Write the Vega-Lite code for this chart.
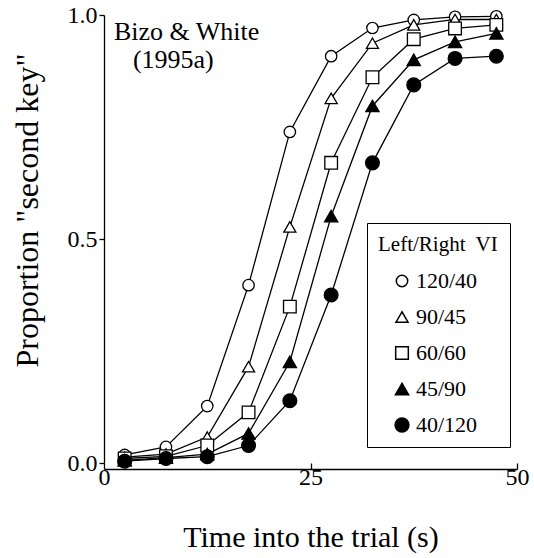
{
  "$schema": "https://vega.github.io/schema/vega-lite/v6.json",
  "width": 413,
  "height": 448,
  "autosize": {"type": "none"},
  "padding": {"left": 104, "top": 15, "right": 17, "bottom": 95},
  "background": "white",
  "config": {
    "view": {"stroke": null},
    "font": "Liberation Serif",
    "axis": {
      "grid": false,
      "domainColor": "black",
      "tickColor": "black",
      "labelColor": "black",
      "titleColor": "black",
      "domainWidth": 1.3,
      "tickWidth": 1.3,
      "labelFont": "Liberation Serif",
      "titleFont": "Liberation Serif",
      "titleFontWeight": "normal"
    },
    "legend": {
      "labelFont": "Liberation Serif",
      "titleFont": "Liberation Serif",
      "labelColor": "black",
      "titleColor": "black"
    }
  },
  "data": {
    "values": [
      {"time": 2.5, "prop": 0.018, "schedule": "120/40"},
      {"time": 7.5, "prop": 0.036, "schedule": "120/40"},
      {"time": 12.5, "prop": 0.127, "schedule": "120/40"},
      {"time": 17.5, "prop": 0.397, "schedule": "120/40"},
      {"time": 22.5, "prop": 0.739, "schedule": "120/40"},
      {"time": 27.5, "prop": 0.908, "schedule": "120/40"},
      {"time": 32.5, "prop": 0.971, "schedule": "120/40"},
      {"time": 37.5, "prop": 0.989, "schedule": "120/40"},
      {"time": 42.5, "prop": 0.996, "schedule": "120/40"},
      {"time": 47.5, "prop": 0.997, "schedule": "120/40"},
      {"time": 2.5, "prop": 0.013, "schedule": "90/45"},
      {"time": 7.5, "prop": 0.02, "schedule": "90/45"},
      {"time": 12.5, "prop": 0.058, "schedule": "90/45"},
      {"time": 17.5, "prop": 0.215, "schedule": "90/45"},
      {"time": 22.5, "prop": 0.527, "schedule": "90/45"},
      {"time": 27.5, "prop": 0.814, "schedule": "90/45"},
      {"time": 32.5, "prop": 0.937, "schedule": "90/45"},
      {"time": 37.5, "prop": 0.978, "schedule": "90/45"},
      {"time": 42.5, "prop": 0.99, "schedule": "90/45"},
      {"time": 47.5, "prop": 0.99, "schedule": "90/45"},
      {"time": 2.5, "prop": 0.01, "schedule": "60/60"},
      {"time": 7.5, "prop": 0.015, "schedule": "60/60"},
      {"time": 12.5, "prop": 0.039, "schedule": "60/60"},
      {"time": 17.5, "prop": 0.113, "schedule": "60/60"},
      {"time": 22.5, "prop": 0.349, "schedule": "60/60"},
      {"time": 27.5, "prop": 0.67, "schedule": "60/60"},
      {"time": 32.5, "prop": 0.861, "schedule": "60/60"},
      {"time": 37.5, "prop": 0.946, "schedule": "60/60"},
      {"time": 42.5, "prop": 0.97, "schedule": "60/60"},
      {"time": 47.5, "prop": 0.978, "schedule": "60/60"},
      {"time": 2.5, "prop": 0.006, "schedule": "45/90"},
      {"time": 7.5, "prop": 0.012, "schedule": "45/90"},
      {"time": 12.5, "prop": 0.02, "schedule": "45/90"},
      {"time": 17.5, "prop": 0.066, "schedule": "45/90"},
      {"time": 22.5, "prop": 0.226, "schedule": "45/90"},
      {"time": 27.5, "prop": 0.551, "schedule": "45/90"},
      {"time": 32.5, "prop": 0.797, "schedule": "45/90"},
      {"time": 37.5, "prop": 0.9, "schedule": "45/90"},
      {"time": 42.5, "prop": 0.94, "schedule": "45/90"},
      {"time": 47.5, "prop": 0.959, "schedule": "45/90"},
      {"time": 2.5, "prop": 0.004, "schedule": "40/120"},
      {"time": 7.5, "prop": 0.01, "schedule": "40/120"},
      {"time": 12.5, "prop": 0.014, "schedule": "40/120"},
      {"time": 17.5, "prop": 0.039, "schedule": "40/120"},
      {"time": 22.5, "prop": 0.139, "schedule": "40/120"},
      {"time": 27.5, "prop": 0.375, "schedule": "40/120"},
      {"time": 32.5, "prop": 0.67, "schedule": "40/120"},
      {"time": 37.5, "prop": 0.844, "schedule": "40/120"},
      {"time": 42.5, "prop": 0.903, "schedule": "40/120"},
      {"time": 47.5, "prop": 0.908, "schedule": "40/120"}
    ]
  },
  "layer": [
    {
      "mark": {"type": "line", "color": "black", "strokeWidth": 1.3},
      "encoding": {
        "x": {
          "field": "time",
          "type": "quantitative",
          "scale": {"domain": [0, 50], "nice": false, "zero": false},
          "axis": {
            "title": "Time into the trial (s)",
            "values": [0, 25, 50],
            "format": "d",
            "offset": 6,
            "tickSize": -6,
            "labelFontSize": 24,
            "labelPadding": 2,
            "titleFontSize": 30,
            "titlePadding": 33,
            "labelFlush": false
          }
        },
        "y": {
          "field": "prop",
          "type": "quantitative",
          "scale": {"domain": [0, 1], "nice": false},
          "axis": {
            "title": "Proportion \"second key\"",
            "values": [0, 0.5, 1],
            "format": ".1f",
            "tickSize": 5,
            "labelFontSize": 24,
            "labelPadding": 2,
            "titleFontSize": 32,
            "titleBaseline": "alphabetic",
            "titleX": -67,
            "titleY": 195,
            "labelFlush": false
          }
        },
        "detail": {"field": "schedule"}
      }
    },
    {
      "mark": {"type": "point", "filled": true, "stroke": "black", "strokeWidth": 1.3, "opacity": 1},
      "encoding": {
        "x": {"field": "time", "type": "quantitative"},
        "y": {"field": "prop", "type": "quantitative"},
        "shape": {
          "field": "schedule",
          "type": "nominal",
          "sort": ["120/40", "90/45", "60/60", "45/90", "40/120"],
          "scale": {
            "domain": ["120/40", "90/45", "60/60", "45/90", "40/120"],
            "range": ["circle", "triangle-up", "square", "triangle-up", "circle"]
          },
          "legend": {
            "title": "Left/Right\u00a0 VI",
            "orient": "none",
            "legendX": 263,
            "legendY": 208,
            "padding": 11,
            "strokeColor": "black",
            "fillColor": "white",
            "titleFontSize": 21,
            "titleFontWeight": "normal",
            "titlePadding": 15,
            "labelFontSize": 22,
            "labelOffset": 3,
            "rowPadding": 14,
            "symbolOffset": 13,
            "symbolStrokeColor": "black"
          }
        },
        "fill": {
          "field": "schedule",
          "type": "nominal",
          "sort": ["120/40", "90/45", "60/60", "45/90", "40/120"],
          "scale": {
            "domain": ["120/40", "90/45", "60/60", "45/90", "40/120"],
            "range": ["white", "white", "white", "black", "black"]
          }
        },
        "size": {
          "field": "schedule",
          "type": "nominal",
          "sort": ["120/40", "90/45", "60/60", "45/90", "40/120"],
          "scale": {
            "domain": ["120/40", "90/45", "60/60", "45/90", "40/120"],
            "range": [130, 190, 140, 190, 130]
          }
        }
      }
    },
    {
      "data": {"values": [{"note": "Bizo & White"}]},
      "mark": {"type": "text", "align": "left", "baseline": "alphabetic", "fontSize": 26, "font": "Liberation Serif", "color": "black"},
      "encoding": {
        "text": {"field": "note"},
        "x": {"datum": 1.2, "type": "quantitative"},
        "y": {"datum": 0.944, "type": "quantitative"}
      }
    },
    {
      "data": {"values": [{"note": "(1995a)"}]},
      "mark": {"type": "text", "align": "left", "baseline": "alphabetic", "fontSize": 26, "font": "Liberation Serif", "color": "black"},
      "encoding": {
        "text": {"field": "note"},
        "x": {"datum": 3.5, "type": "quantitative"},
        "y": {"datum": 0.882, "type": "quantitative"}
      }
    }
  ]
}
